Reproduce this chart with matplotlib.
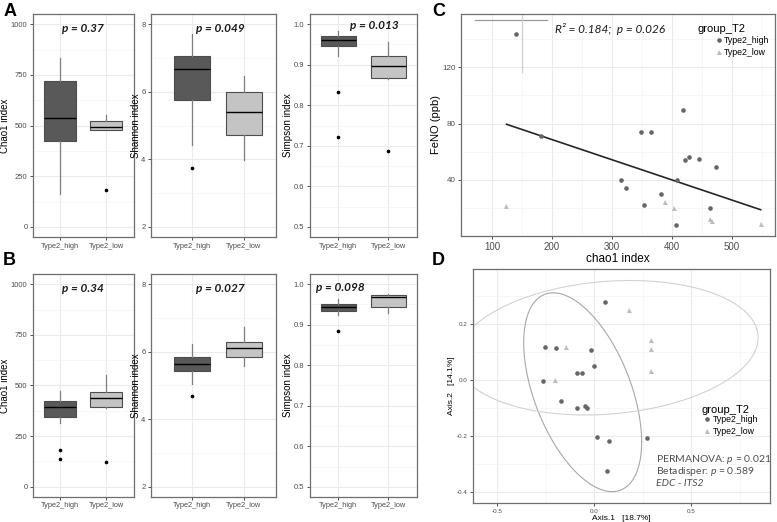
import numpy as np
import matplotlib
matplotlib.use("Agg")
import matplotlib.pyplot as plt
from matplotlib.lines import Line2D

plt.rcParams['font.family'] = ['Liberation Sans', 'DejaVu Sans']
plt.rcParams['mathtext.fontset'] = 'custom'
plt.rcParams['mathtext.rm'] = 'Lato'
plt.rcParams['mathtext.it'] = 'Lato:italic'

groups = ["Type2_high", "Type2_low"]

# box stats: [lower whisker, q1, median, q3, upper whisker]
chao1_a = [[163, 424, 539, 722, 831], [476, 476, 493, 521, 552]]
chao1_a_out = [[], [181]]
shannon_a = [[4.43, 5.76, 6.66, 7.06, 7.71], [3.99, 4.73, 5.41, 6.00, 6.47]]
shannon_a_out = [[3.74], []]
simpson_a = [[0.922, 0.947, 0.962, 0.970, 0.983], [0.865, 0.867, 0.896, 0.922, 0.956]]
simpson_a_out = [[0.833, 0.721], [0.686]]

chao1_b = [[317, 344, 395, 423, 475], [390, 393, 438, 469, 551]]
chao1_b_out = [[181, 137], [123]]
shannon_b = [[5.04, 5.42, 5.63, 5.85, 6.24], [5.57, 5.83, 6.10, 6.30, 6.74]]
shannon_b_out = [[4.68], []]
simpson_b = [[0.925, 0.933, 0.944, 0.951, 0.963], [0.928, 0.944, 0.968, 0.974, 0.977]]
simpson_b_out = [[0.884], []]

p_a = ["p = 0.37", "p = 0.049", "p = 0.013"]
p_b = ["p = 0.34", "p = 0.027", "p = 0.098"]

# panel C: FeNO vs chao1
c_high_x = [140, 181, 418, 349, 365, 422, 428, 445, 473, 315, 324, 409, 382, 354, 464, 407]
c_high_y = [144, 71, 90, 74, 74, 54, 56, 55, 49, 40, 34, 40, 30, 22, 20, 8]
c_low_x = [123, 389, 403, 463, 467, 548]
c_low_y = [21.5, 24, 20, 12, 11, 8.5]
fit_x = [124, 548]
fit_y = [79.5, 18.7]
stray_h_x = [72, 192]
stray_h_y = [153.6, 153.6]
stray_v_x = [150, 150]
stray_v_y = [158, 117]

# panel D: PCoA
d_high_x = [0.057, -0.253, -0.196, -0.015, 0.002, -0.088, -0.064, -0.261,
            -0.168, -0.088, -0.048, -0.036, 0.015, 0.076, 0.271, 0.065]
d_high_y = [0.279, 0.119, 0.115, 0.107, 0.051, 0.024, 0.024, -0.002,
            -0.074, -0.100, -0.093, -0.101, -0.205, -0.217, -0.206, -0.324]
d_low_x = [0.180, -0.143, 0.295, 0.292, 0.295, -0.201]
d_low_y = [0.250, 0.117, 0.143, 0.112, 0.033, 0.000]
# low-group ellipse as drawn: centre and the two semi-axis vectors
low_ell_center = [0.07, 0.115]
low_ell_a = [0.77, 0.065]
low_ell_b = [-0.096, 0.231]

dark = '#595959'
light = '#c4c4c4'
tick_col = '#4d4d4d'
grid_col = '#ebebeb'

fig = plt.figure(figsize=(7.77, 5.22), dpi=100)


def style_axes(ax, tsize=5):
    for s in ax.spines.values():
        s.set_color('#6e6e6e')
        s.set_linewidth(0.9)
    ax.tick_params(which='major', length=2.5, width=0.6, color='#333333',
                   labelsize=tsize, labelcolor=tick_col, pad=1.5)
    ax.tick_params(which='minor', length=0)
    ax.grid(True, which='major', color=grid_col, lw=0.8)
    ax.grid(True, which='minor', color='#f4f4f4', lw=0.5)
    ax.set_axisbelow(True)


def box_panel(rect, stats, outs, ylim, yticks, ylabel, ptext, pxy, xlim, lpad):
    ax = fig.add_axes(rect)
    items = []
    for s, o, g in zip(stats, outs, groups):
        items.append(dict(whislo=s[0], q1=s[1], med=s[2], q3=s[3], whishi=s[4],
                          fliers=o, label=g))
    bp = ax.bxp(items, positions=[1, 2], widths=0.7, patch_artist=True, showcaps=False,
                boxprops=dict(edgecolor='#4d4d4d', linewidth=0.8),
                medianprops=dict(color='black', linewidth=1.0),
                whiskerprops=dict(color='#7f7f7f', linewidth=0.9),
                flierprops=dict(marker='o', markersize=1.6, markerfacecolor='black',
                                markeredgecolor='black'))
    for patch, c in zip(bp['boxes'], [dark, light]):
        patch.set_facecolor(c)
    ax.set_xlim(xlim)
    ax.set_ylim(ylim)
    ax.set_yticks(yticks)
    step = yticks[1] - yticks[0]
    ax.set_yticks([t + step / 2 for t in yticks[:-1]], minor=True)
    ax.set_xticks([1, 2])
    ax.set_xticklabels(groups)
    style_axes(ax, tsize=5.5)
    ax.tick_params(axis='x', labelsize=5.3)
    ax.grid(False, axis='x', which='minor')
    ax.set_ylabel(ylabel, fontsize=7, labelpad=lpad)
    ax.text(pxy[0], pxy[1], ptext, ha='center', va='center', fontsize=8.5,
            family='Lato', style='italic', fontweight='bold', color='#1a1a1a')
    return ax


cols = [(33 / 777, 101 / 777), (151 / 777, 125 / 777), (310 / 777, 107 / 777)]
xlims = [(0.41, 2.61), (0.2, 2.62), (0.44, 2.58)]
lpads = [0.5, 0, 1]
rows = [(0.546, 0.427), (0.048, 0.427)]

specs_a = [(chao1_a, chao1_a_out), (shannon_a, shannon_a_out), (simpson_a, simpson_a_out)]
specs_b = [(chao1_b, chao1_b_out), (shannon_b, shannon_b_out), (simpson_b, simpson_b_out)]
ylims = [(-50, 1050), (1.7, 8.3), (0.475, 1.025)]
yticks = [[0, 250, 500, 750, 1000], [2, 4, 6, 8], [0.5, 0.6, 0.7, 0.8, 0.9, 1.0]]
ylabels = ["Chao1 index", "Shannon index", "Simpson index"]
pos_a = [(1.5, 977), (1.55, 7.86), (1.72, 0.997)]
pos_b = [(1.5, 977), (1.55, 7.86), (1.05, 0.993)]

for r, specs, ptexts, ppos in [(rows[0], specs_a, p_a, pos_a), (rows[1], specs_b, p_b, pos_b)]:
    for i in range(3):
        rect = [cols[i][0], r[0], cols[i][1], r[1]]
        box_panel(rect, specs[i][0], specs[i][1], ylims[i], yticks[i], ylabels[i],
                  ptexts[i], ppos[i], xlims[i], lpads[i])

# ---- panel C ----
axc = fig.add_axes([461 / 777, 0.5479, 314 / 777, 0.4253])
axc.set_xlim(48, 572)
axc.set_ylim(0, 158)
axc.set_xticks([100, 200, 300, 400, 500])
axc.set_xticks([150, 250, 350, 450, 550], minor=True)
axc.set_yticks([40, 80, 120])
axc.set_yticks([20, 60, 100, 140], minor=True)
style_axes(axc, tsize=5.8)
axc.tick_params(axis='x', labelsize=7)
axc.plot(stray_h_x, stray_h_y, color='#9a9a9a', lw=0.9)
axc.plot(stray_v_x, stray_v_y, color='#cfcfcf', lw=0.9)
axc.plot(fit_x, fit_y, color='#262626', lw=1.2)
axc.plot(c_high_x, c_high_y, 'o', color='#666666', ms=3.3, mew=0)
axc.plot(c_low_x, c_low_y, '^', color='#bdbdbd', ms=3.6, mew=0)
axc.set_xlabel("chao1 index", fontsize=8.5, labelpad=1)
axc.set_ylabel("FeNO (ppb)", fontsize=8, labelpad=1)
axc.text(297, 147, "R² = 0.184;  p = 0.026", ha='center', va='center', fontsize=8.5,
         family='Lato', style='italic', color='#1a1a1a')
h1 = Line2D([], [], marker='o', ls='', color='#666666', ms=3.3, mew=0)
h2 = Line2D([], [], marker='^', ls='', color='#bdbdbd', ms=3.6, mew=0)
axc.text(0.752, 0.932, "group_T2", transform=axc.transAxes, fontsize=8,
         va='center', ha='left')
axc.legend([h1, h2], groups, loc='upper left', bbox_to_anchor=(0.81, 0.90),
           frameon=False, fontsize=6.3, handletextpad=0.2, labelspacing=0.3,
           borderaxespad=0, borderpad=0, handlelength=0.8)

# ---- panel D ----


def cov_trob(pts, nu=5, maxit=25, tol=0.01):
    n, p = pts.shape
    loc = pts.mean(0)
    w = np.ones(n)
    X = pts - loc
    for _ in range(maxit):
        w0 = w
        X = pts - loc
        S = (X * (w / w.sum())[:, None]).T @ X
        Q = np.einsum('ij,jk,ik->i', X, np.linalg.inv(S), X)
        w = (nu + p) / (nu + Q)
        loc = (w[:, None] * pts).sum(0) / w.sum()
        if np.all(np.abs(w - w0) < tol):
            break
    cov = (X * w[:, None]).T @ X / n
    return loc, cov


def ellipse(x, y, level=0.95):
    pts = np.column_stack([x, y])
    loc, cov = cov_trob(pts)
    dfd = len(x) - 1
    q = dfd / 2 * ((1 - level) ** (-2 / dfd) - 1)
    radius = np.sqrt(2 * q)
    t = np.linspace(0, 2 * np.pi, 101)
    circ = np.column_stack([np.cos(t), np.sin(t)])
    chol = np.linalg.cholesky(cov)
    e = loc + radius * circ @ chol.T
    return e[:, 0], e[:, 1]


axd = fig.add_axes([473 / 777, 0.0364, 297 / 777, 0.4483])
axd.set_xlim(-0.624, 0.907)
axd.set_ylim(-0.439, 0.396)
axd.set_xticks([-0.5, 0.0, 0.5])
axd.set_xticklabels(["-0.5", "0.0", "0.5"])
axd.set_xticks([-0.25, 0.25, 0.75], minor=True)
axd.set_yticks([-0.4, -0.2, 0.0, 0.2])
axd.set_yticklabels(["-0.4", "-0.2", "0.0", "0.2"])
axd.set_yticks([-0.3, -0.1, 0.1, 0.3], minor=True)
style_axes(axd, tsize=4.5)
ex, ey = ellipse(d_high_x, d_high_y)
axd.plot(ex, ey, color='#a8a8a8', lw=0.8)
t = np.linspace(0, 2 * np.pi, 101)
axd.plot(low_ell_center[0] + low_ell_a[0] * np.cos(t) + low_ell_b[0] * np.sin(t),
         low_ell_center[1] + low_ell_a[1] * np.cos(t) + low_ell_b[1] * np.sin(t),
         color='#d2d2d2', lw=0.8)
axd.plot(d_high_x, d_high_y, 'o', color='#666666', ms=3.3, mew=0)
axd.plot(d_low_x, d_low_y, '^', color='#bdbdbd', ms=3.6, mew=0)
axd.set_xlabel("Axis.1   [18.7%]", fontsize=6, labelpad=1)
axd.set_ylabel("Axis.2   [14.1%]", fontsize=6, labelpad=1)
axd.text(0.771, 0.397, "group_T2", transform=axd.transAxes, fontsize=8,
         va='center', ha='left')
axd.legend([h1, h2], groups, loc='upper left', bbox_to_anchor=(0.775, 0.375),
           frameon=False, fontsize=6.3, handletextpad=0.3, labelspacing=0.3,
           borderaxespad=0, borderpad=0, handlelength=0.8)
ann = [r"PERMANOVA: $\mathit{p}$ = $\mathit{0.021}$",
       r"Betadisper: $\mathit{p}$ = $\mathit{0.589}$"]
for k, s in enumerate(ann):
    axd.text(0.616, 0.188 - k * 0.052, s, transform=axd.transAxes, fontsize=7.5,
             family='Lato', color='#505050', va='center', ha='left')
axd.text(0.616, 0.084, "EDC - ITS2", transform=axd.transAxes, fontsize=7.5,
         family='Lato', style='italic', color='#505050', va='center', ha='left')

# panel letters
for lab, x, y in [("A", 0.004, 0.995), ("B", 0.004, 0.518), ("C", 0.556, 0.995), ("D", 0.556, 0.518)]:
    fig.text(x, y, lab, fontsize=13, fontweight='bold', va='top', ha='left')

fig.savefig("out.png", dpi=100)
